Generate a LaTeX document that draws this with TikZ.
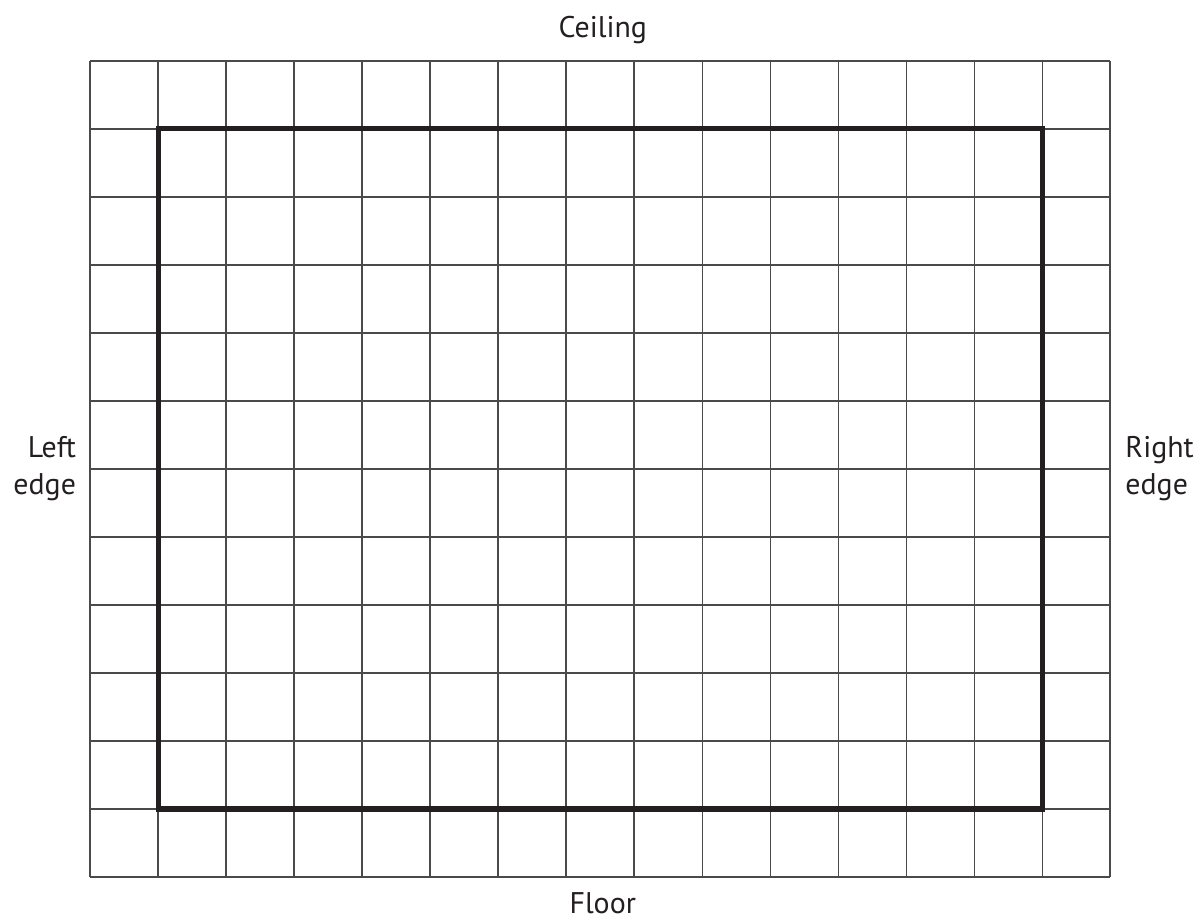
\documentclass[tikz,border=0pt]{standalone}
\usepackage{fontspec}
\setmainfont{PT Sans}
\usepackage{xcolor}
\usepackage{tikz}
\usetikzlibrary{positioning}
\definecolor{GridGray}{HTML}{4A4A4A}
\definecolor{Ink}{HTML}{231F20}

\begin{document}
\begin{tikzpicture}[every node/.style={font=\fontsize{12.5}{15.5}\selectfont, text=Ink, inner sep=0pt}]
  \tikzstyle{gridline}=[draw=GridGray, line width=0.45pt]
  \tikzstyle{wall}=[draw=Ink, line width=2.1pt, line join=miter]
  \tikzstyle{side}=[align=center]

  \useasboundingbox (-1.324,-0.632) rectangle (16.338,12.897);

  % room grid and outline
  \draw[gridline] (0,0) grid (15,12);
  \draw[wall] (1,1) rectangle (14,11);

  % labels round the grid
  \node[anchor=base] (ceiling) at (7.54,12.34) {Ceiling};
  \node[anchor=base] (floor) at (7.54,-0.53) {Floor};
  \node[side, align=right, anchor=east] (leftedge) at (-0.2,6) {Left\\edge};
  \node[side, align=left, anchor=west] (rightedge) at (15.22,6) {Right\\edge};
\end{tikzpicture}
\end{document}
